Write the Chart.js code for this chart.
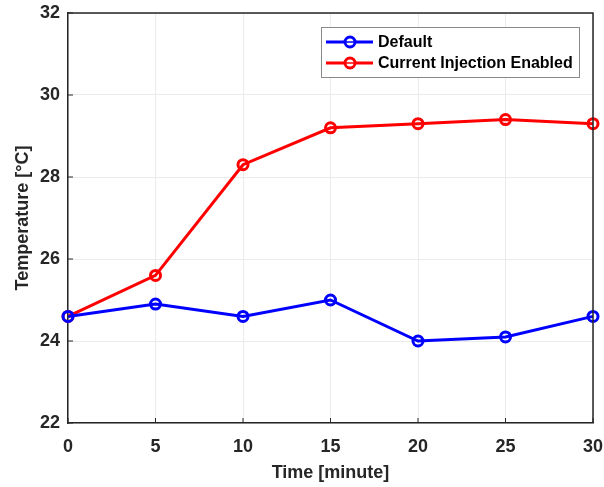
<!DOCTYPE html>
<html>
<head>
<meta charset="utf-8">
<script src="https://cdn.jsdelivr.net/npm/chart.js@4.4.0/dist/chart.umd.min.js"></script>
<style>
  html, body { margin: 0; padding: 0; background: #fff; }
  #wrap { width: 604px; height: 487px; position: relative; }
</style>
</head>
<body>
<div id="wrap"><canvas id="tempChart"></canvas></div>
<script>
// time in minutes and temperature readings
const timeMinutes = [0, 5, 10, 15, 20, 25, 30];
const defaultTemp = [24.6, 24.9, 24.6, 25.0, 24.0, 24.1, 24.6];
const injectionTemp = [24.6, 25.6, 28.3, 29.2, 29.3, 29.4, 29.3];
const xTicks = [0, 5, 10, 15, 20, 25, 30];
const yTicks = [22, 24, 26, 28, 30, 32];
const seriesNames = ["Default", "Current Injection Enabled"];

const FONT = "'Liberation Sans', Arial, Helvetica, sans-serif";

// box around the plot + inward tick marks (matlab style)
const boxPlugin = {
  id: "box",
  afterDatasetsDraw(chart) {
    const { ctx, chartArea: a, scales } = chart;
    ctx.save();
    ctx.strokeStyle = "#262626";
    ctx.lineWidth = 1.5;
    ctx.beginPath();
    ctx.moveTo(a.left, a.top);
    ctx.lineTo(a.right, a.top);
    ctx.lineTo(a.right, a.bottom);
    ctx.stroke();
    ctx.lineWidth = 1;
    ctx.beginPath();
    xTicks.forEach(t => {
      const x = scales.x.getPixelForValue(t);
      ctx.moveTo(x, a.bottom);
      ctx.lineTo(x, a.bottom - 5);
    });
    yTicks.forEach(t => {
      const y = scales.y.getPixelForValue(t);
      ctx.moveTo(a.left, y);
      ctx.lineTo(a.left + 5, y);
    });
    ctx.stroke();
    ctx.restore();
  }
};

// legend box in the top right corner
const legendBoxPlugin = {
  id: "legendBox",
  afterDraw(chart) {
    const { ctx, chartArea: a } = chart;
    const boxW = 258, boxH = 50;
    const bx = a.right - 14 - boxW, by = a.top + 14;
    ctx.save();
    ctx.fillStyle = "#fff";
    ctx.fillRect(bx, by, boxW, boxH);
    ctx.strokeStyle = "#8a8a8a";
    ctx.lineWidth = 1;
    ctx.strokeRect(bx + 0.5, by + 0.5, boxW, boxH);
    ctx.font = "bold 16px " + FONT;
    ctx.textBaseline = "middle";
    chart.data.datasets.forEach((ds, i) => {
      const y = by + 15 + i * 21;
      ctx.strokeStyle = ds.borderColor;
      ctx.lineWidth = 3;
      ctx.beginPath();
      ctx.moveTo(bx + 5, y);
      ctx.lineTo(bx + 52, y);
      ctx.stroke();
      ctx.beginPath();
      ctx.arc(bx + 29, y, 5, 0, Math.PI * 2);
      ctx.fillStyle = "#fff";
      ctx.fill();
      ctx.stroke();
      ctx.beginPath();
      ctx.lineWidth = 1.5;
      ctx.moveTo(bx + 25, y);
      ctx.lineTo(bx + 33, y);
      ctx.stroke();
      ctx.fillStyle = "#000";
      ctx.fillText(ds.label, bx + 57, y + 1);
    });
    ctx.restore();
  }
};

const ctx = document.getElementById("tempChart").getContext("2d");

const makeSeries = (label, values, color) => ({
  label,
  data: timeMinutes.map((t, i) => ({ x: t, y: values[i] })),
  borderColor: color,
  backgroundColor: "rgba(0,0,0,0)",
  borderWidth: 3,
  pointRadius: 5,
  pointBorderWidth: 3,
  pointBackgroundColor: "rgba(0,0,0,0)",
  pointBorderColor: color,
  tension: 0,
  clip: false
});

new Chart(ctx, {
  type: "line",
  data: {
    datasets: [
      makeSeries(seriesNames[0], defaultTemp, "#0000ff"),
      makeSeries(seriesNames[1], injectionTemp, "#ff0000")
    ]
  },
  options: {
    responsive: true,
    maintainAspectRatio: false,
    animation: false,
    layout: { padding: { top: 13, right: 11, left: 0, bottom: 0 } },
    plugins: {
      legend: { display: false },
      tooltip: { enabled: false }
    },
    scales: {
      x: {
        type: "linear",
        min: 0,
        max: 30,
        afterBuildTicks: s => { s.ticks = xTicks.map(v => ({ value: v })); },
        afterFit: s => {
          s.height = 64;
          s.paddingLeft = 0; // don't let tick labels shrink the plot
          s.paddingRight = 0;
        },
        grid: { color: "#ebebeb", lineWidth: 1, drawTicks: false },
        border: { color: "#262626", width: 1.5 },
        ticks: {
          padding: 13,
          color: "#262626",
          maxRotation: 0,
          font: { family: FONT, size: 18, weight: "bold" }
        },
        title: {
          display: true,
          text: "Time [minute]",
          color: "#262626",
          padding: { top: 0, bottom: 3 },
          font: { family: FONT, size: 18, weight: "bold" }
        }
      },
      y: {
        min: 22,
        max: 32,
        afterBuildTicks: s => { s.ticks = yTicks.map(v => ({ value: v })); },
        afterFit: s => {
          s.width = 68;
          s.paddingTop = 0;
          s.paddingBottom = 0;
        },
        grid: { color: "#ebebeb", lineWidth: 1, drawTicks: false },
        border: { color: "#262626", width: 1.5 },
        ticks: {
          padding: 8,
          color: "#262626",
          font: { family: FONT, size: 18, weight: "bold" }
        },
        title: {
          display: true,
          text: "Temperature [°C]",
          color: "#262626",
          padding: { top: 12, bottom: 0 },
          font: { family: FONT, size: 18, weight: "bold" }
        }
      }
    }
  },
  plugins: [boxPlugin, legendBoxPlugin]
});
</script>
</body>
</html>
